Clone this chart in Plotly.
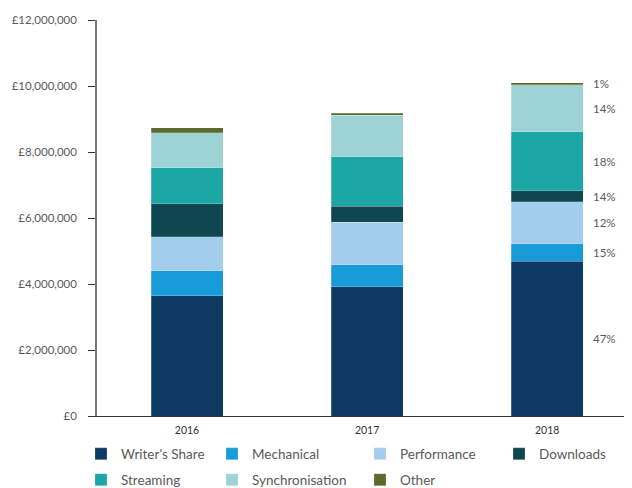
import plotly.graph_objects as go

years = ["2016", "2017", "2018"]
series_names = ["Writer's Share", "Mechanical", "Performance", "Downloads",
                "Streaming", "Synchronisation", "Other"]
writers_share = [3.64e6, 3.91e6, 4.69e6]
mechanical = [0.76e6, 0.67e6, 0.53e6]
performance = [1.03e6, 1.29e6, 1.28e6]
downloads = [1.00e6, 0.49e6, 0.33e6]
streaming = [1.09e6, 1.49e6, 1.78e6]
synchronisation = [1.06e6, 1.27e6, 1.43e6]
other = [0.15e6, 0.06e6, 0.06e6]
pct_2018 = ["47%", "15%", "12%", "14%", "18%", "14%", "1%"]

values = [writers_share, mechanical, performance, downloads, streaming, synchronisation, other]
colors = ["#0d3a63", "#189cd9", "#a3cdec", "#0f4750", "#1ca6a6", "#9dd3d4", "#5c6b2d"]

# the page body adds an 8px offset, so the figure is laid out 8px smaller
OFF = 8
W, H = 632 - OFF, 488 - OFF
# legend grid (window pixel layout): 4 columns, 2 rows
col_px = [81, 212, 360, 499]
row_px = [454, 480]

fig = go.Figure()
legend_layout = {}
for i, (name, vals, col) in enumerate(zip(series_names, values, colors)):
    key = "legend" if i == 0 else f"legend{i + 1}"
    fig.add_trace(go.Bar(
        x=years, y=vals, name=name, width=0.4,
        marker=dict(color=col, line=dict(color="rgba(255,255,255,0.35)", width=0.6)),
        legend=key,
    ))
    legend_layout[key] = dict(
        xref="container", yref="container",
        x=(col_px[i % 4] - OFF) / W, y=1 - (row_px[i // 4] - OFF) / H,
        xanchor="left", yanchor="middle", orientation="h",
        font=dict(family="Lato", size=13.5, color="#5a5a5a"),
        bgcolor="rgba(0,0,0,0)", borderwidth=0,
        itemclick=False, itemdoubleclick=False,
    )

# percentage labels beside the 2018 bar, at segment midpoints
cum = 0
for vals, txt in zip(values, pct_2018):
    v = vals[2]
    mid = cum + v / 2
    cum += v
    fig.add_annotation(x=2.245, y=mid, xref="x", yref="y", text=txt, showarrow=False,
                       xanchor="left", yanchor="middle",
                       font=dict(family="Lato", size=11.5, color="#5a5a5a"))

fig.update_layout(
    width=W, height=H,
    margin=dict(l=97 - OFF, r=2, t=20 - OFF, b=72, autoexpand=False),
    plot_bgcolor="white", paper_bgcolor="white",
    barmode="stack",
    showlegend=True,
    xaxis=dict(type="category", range=[-0.5, 2.46], showline=True, linecolor="#333",
               linewidth=1.2, ticks="", showgrid=False, automargin=False,
               ticklabelstandoff=4,
               tickfont=dict(family="Lato", size=10.5, color="#333")),
    yaxis=dict(range=[0, 12e6], dtick=2e6, tickprefix="£", tickformat=",",
               showline=True, linecolor="#777", linewidth=1.5, ticks="outside",
               ticklen=7, tickcolor="#333", tickwidth=1, showgrid=False, zeroline=False,
               automargin=False, ticklabelstandoff=9,
               tickfont=dict(family="Lato", size=11.5, color="#5a5a5a")),
    font=dict(family="Lato", color="#5a5a5a"),
    **legend_layout,
)

fig.write_html("out.html")
